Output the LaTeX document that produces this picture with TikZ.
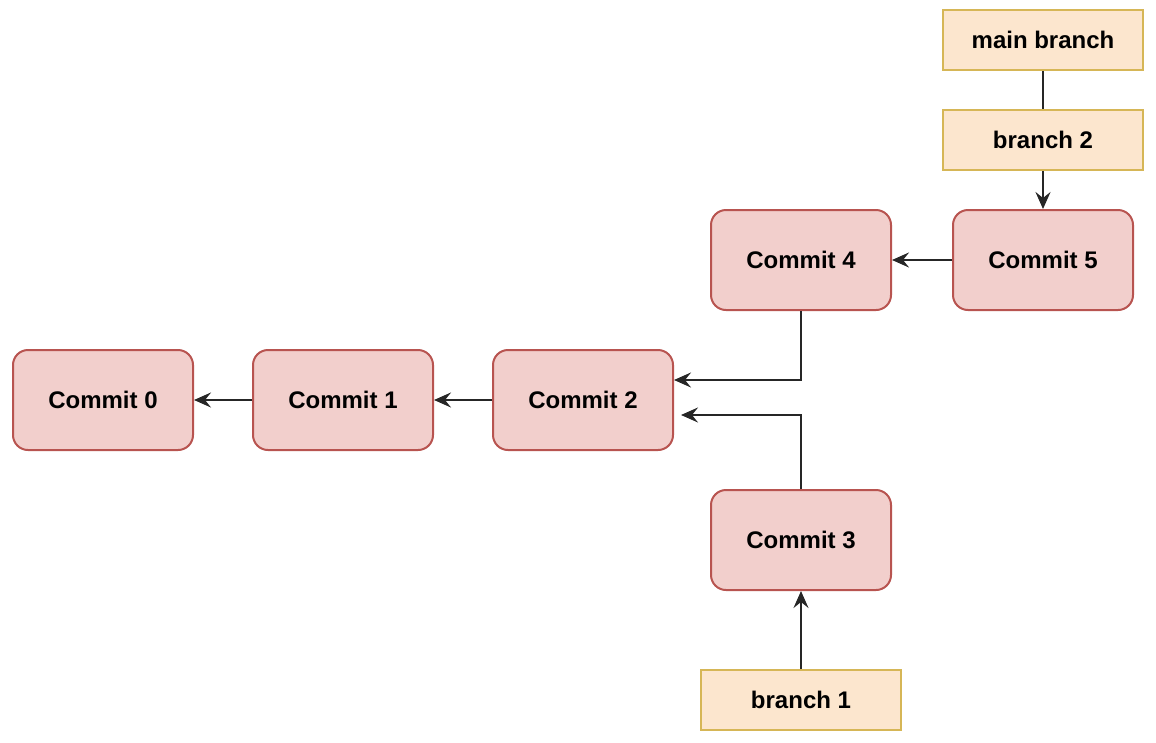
\documentclass[tikz,border=0pt]{standalone}
\usepackage{fontspec}
\setmainfont{Liberation Sans}
\usetikzlibrary{arrows.meta}
\definecolor{cfill}{HTML}{F2CFCC}
\definecolor{cdraw}{HTML}{B85450}
\definecolor{bfill}{HTML}{FCE6CE}
\definecolor{bdraw}{HTML}{D6B656}
\begin{document}
\begin{tikzpicture}[x=1pt,y=1pt,
  commit/.style={draw=cdraw,fill=cfill,line width=2pt,rounded corners=15pt,minimum width=180pt,minimum height=100pt,inner sep=0pt,font=\fontsize{24}{28}\selectfont\bfseries},
  branchbox/.style={draw=bdraw,fill=bfill,line width=2pt,minimum width=200pt,minimum height=60pt,inner sep=0pt,font=\fontsize{24}{28}\selectfont\bfseries},
  conn/.style={draw=black!85,line width=2pt},
  arr/.style={conn,-{Stealth[length=17pt,width=15pt,inset=6pt]}}]
\useasboundingbox (0,0) rectangle (1156,-742);
\node[branchbox] (main) at (1043,-40) {main branch};
\node[branchbox] (b2) at (1043,-140) {branch 2};
\node[commit] (c5) at (1043,-260) {Commit 5};
\node[commit] (c4) at (801,-260) {Commit 4};
\node[commit] (c0) at (103,-400) {Commit 0};
\node[commit] (c1) at (343,-400) {Commit 1};
\node[commit] (c2) at (583,-400) {Commit 2};
\node[commit] (c3) at (801,-540) {Commit 3};
\node[branchbox] (b1) at (801,-700) {branch 1};
\draw[conn] (main.south) -- (b2.north);
\draw[arr] (b2.south) -- (c5.north);
\draw[arr] (c5.west) -- (c4.east);
\draw[arr] (c2.west) -- (c1.east);
\draw[arr] (c1.west) -- (c0.east);
\draw[arr] (c4.south) |- ([yshift=20pt]c2.east);
\draw[arr] (c3.north) |- ([yshift=-15pt,xshift=7pt]c2.east);
\draw[arr] (b1.north) -- (c3.south);
\end{tikzpicture}
\end{document}
